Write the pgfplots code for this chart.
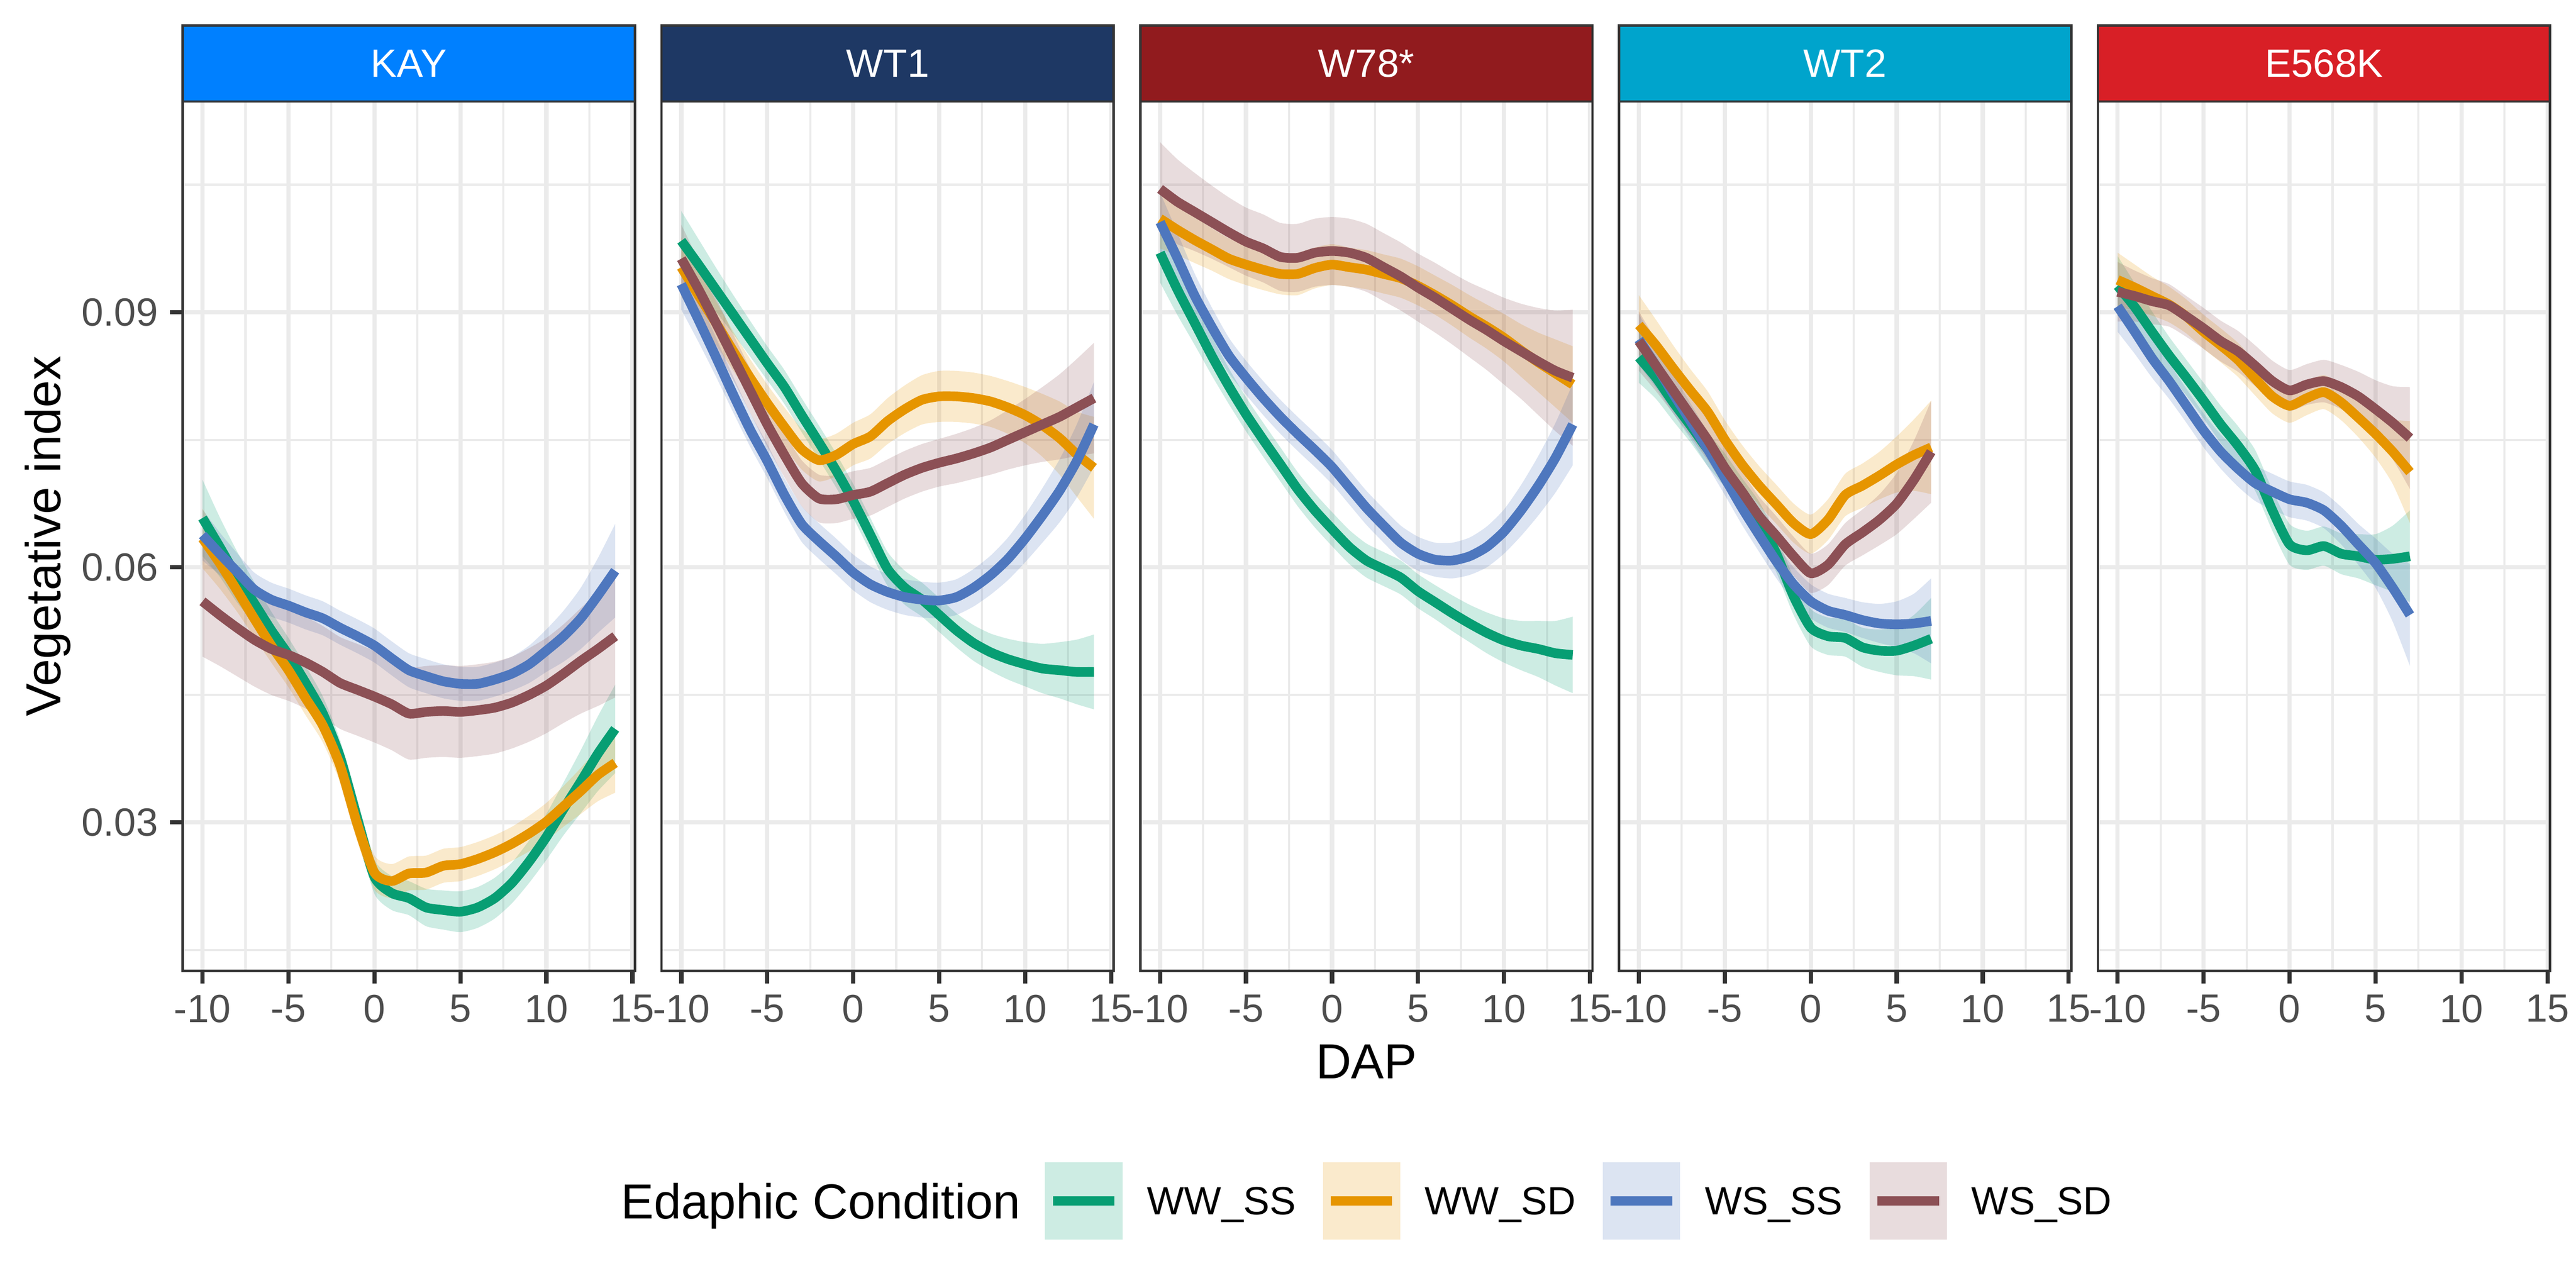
\documentclass[border=0pt]{standalone}
\usepackage{fontspec}
\setmainfont{Liberation Sans}
\usepackage{pgfplots}
\usepackage{pgfplotstable}
\pgfplotsset{compat=1.18}
\usepgfplotslibrary{fillbetween}

\definecolor{cWWSS}{HTML}{079E73}
\definecolor{cWWSD}{HTML}{E69500}
\definecolor{cWSSS}{HTML}{4E77BE}
\definecolor{cWSSD}{HTML}{8C5055}
\definecolor{ggdark}{HTML}{333333}
\definecolor{gridc}{HTML}{EBEBEB}
\definecolor{ticklab}{HTML}{4D4D4D}
\definecolor{sKAY}{HTML}{0080FF}
\definecolor{sWTone}{HTML}{1E3864}
\definecolor{sWSE}{HTML}{911B1E}
\definecolor{sWTtwo}{HTML}{00A4CC}
\definecolor{sEK}{HTML}{D81F26}

\pgfplotstableread{
x a ae b be c ce d de
-10 0.0658 0.0045 0.0634 0.0035 0.0638 0.0030 0.0560 0.0065
-9 0.0624 0.0035 0.0605 0.0030 0.0616 0.0025 0.0544 0.0060
-8 0.0589 0.0030 0.0573 0.0025 0.0595 0.0022 0.0529 0.0057
-7 0.0558 0.0025 0.0540 0.0022 0.0574 0.0020 0.0515 0.0055
-6 0.0526 0.0022 0.0508 0.0020 0.0562 0.0020 0.0504 0.0054
-5 0.0497 0.0020 0.0479 0.0020 0.0555 0.0020 0.0497 0.0054
-4 0.0464 0.0020 0.0446 0.0020 0.0547 0.0020 0.0488 0.0054
-3 0.0428 0.0020 0.0414 0.0020 0.0540 0.0020 0.0477 0.0054
-2 0.0377 0.0020 0.0367 0.0020 0.0529 0.0020 0.0464 0.0054
-1 0.0305 0.0020 0.0298 0.0020 0.0519 0.0020 0.0456 0.0054
0 0.0236 0.0020 0.0241 0.0020 0.0508 0.0020 0.0448 0.0054
1 0.0217 0.0020 0.0231 0.0020 0.0493 0.0020 0.0439 0.0054
2 0.0211 0.0020 0.0240 0.0020 0.0479 0.0020 0.0428 0.0054
3 0.0200 0.0022 0.0241 0.0020 0.0472 0.0020 0.0430 0.0054
4 0.0197 0.0023 0.0249 0.0020 0.0466 0.0020 0.0431 0.0054
5 0.0195 0.0024 0.0251 0.0020 0.0463 0.0020 0.0430 0.0054
6 0.0200 0.0024 0.0257 0.0020 0.0463 0.0020 0.0432 0.0054
7 0.0211 0.0024 0.0265 0.0020 0.0468 0.0020 0.0435 0.0054
8 0.0229 0.0024 0.0275 0.0020 0.0475 0.0020 0.0441 0.0054
9 0.0254 0.0025 0.0287 0.0021 0.0486 0.0022 0.0450 0.0055
10 0.0283 0.0027 0.0301 0.0022 0.0502 0.0025 0.0461 0.0056
11 0.0316 0.0031 0.0319 0.0024 0.0519 0.0030 0.0475 0.0058
12 0.0348 0.0037 0.0337 0.0027 0.0540 0.0036 0.0490 0.0062
13 0.0381 0.0044 0.0356 0.0031 0.0567 0.0044 0.0504 0.0067
14 0.0410 0.0052 0.0370 0.0035 0.0596 0.0055 0.0519 0.0072
}\tKAY

\pgfplotstableread{
x a ae b be c ce d de
-10 0.0984 0.0035 0.0953 0.0035 0.0933 0.0030 0.0963 0.0040
-9 0.0956 0.0030 0.0920 0.0030 0.0891 0.0026 0.0927 0.0034
-8 0.0927 0.0026 0.0888 0.0026 0.0848 0.0023 0.0888 0.0030
-7 0.0898 0.0023 0.0855 0.0023 0.0804 0.0021 0.0848 0.0027
-6 0.0869 0.0021 0.0823 0.0022 0.0762 0.0020 0.0808 0.0026
-5 0.0840 0.0020 0.0793 0.0022 0.0725 0.0020 0.0768 0.0026
-4 0.0812 0.0020 0.0765 0.0023 0.0685 0.0020 0.0732 0.0026
-3 0.0779 0.0020 0.0739 0.0024 0.0651 0.0021 0.0699 0.0027
-2 0.0747 0.0020 0.0726 0.0025 0.0631 0.0021 0.0681 0.0028
-1 0.0714 0.0020 0.0732 0.0025 0.0613 0.0021 0.0680 0.0028
0 0.0678 0.0020 0.0745 0.0025 0.0594 0.0021 0.0685 0.0028
1 0.0638 0.0020 0.0754 0.0026 0.0580 0.0021 0.0689 0.0028
2 0.0598 0.0020 0.0772 0.0027 0.0571 0.0021 0.0699 0.0028
3 0.0576 0.0020 0.0786 0.0028 0.0565 0.0021 0.0709 0.0028
4 0.0562 0.0020 0.0797 0.0029 0.0562 0.0021 0.0717 0.0028
5 0.0544 0.0020 0.0801 0.0030 0.0561 0.0021 0.0723 0.0028
6 0.0526 0.0020 0.0801 0.0030 0.0565 0.0021 0.0728 0.0029
7 0.0511 0.0021 0.0799 0.0030 0.0576 0.0022 0.0734 0.0030
8 0.0500 0.0022 0.0795 0.0030 0.0591 0.0023 0.0741 0.0032
9 0.0492 0.0024 0.0788 0.0031 0.0610 0.0025 0.0750 0.0035
10 0.0486 0.0026 0.0779 0.0033 0.0634 0.0028 0.0759 0.0039
11 0.0481 0.0029 0.0767 0.0037 0.0661 0.0032 0.0768 0.0044
12 0.0479 0.0033 0.0752 0.0043 0.0690 0.0037 0.0777 0.0050
13 0.0477 0.0038 0.0733 0.0050 0.0725 0.0043 0.0788 0.0057
14 0.0477 0.0044 0.0717 0.0060 0.0768 0.0050 0.0799 0.0065
}\tWTone

\pgfplotstableread{
x a ae b be c ce d de
-10 0.0970 0.0035 0.1010 0.0035 0.1006 0.0035 0.1045 0.0055
-9 0.0927 0.0030 0.0997 0.0030 0.0964 0.0030 0.1030 0.0050
-8 0.0888 0.0026 0.0985 0.0027 0.0920 0.0026 0.1018 0.0046
-7 0.0849 0.0023 0.0974 0.0025 0.0883 0.0023 0.1006 0.0043
-6 0.0813 0.0021 0.0963 0.0024 0.0849 0.0021 0.0994 0.0041
-5 0.0780 0.0020 0.0956 0.0024 0.0823 0.0020 0.0983 0.0040
-4 0.0750 0.0020 0.0950 0.0024 0.0799 0.0020 0.0975 0.0040
-3 0.0721 0.0020 0.0945 0.0024 0.0777 0.0020 0.0965 0.0040
-2 0.0692 0.0020 0.0945 0.0025 0.0757 0.0020 0.0964 0.0040
-1 0.0667 0.0020 0.0952 0.0024 0.0738 0.0020 0.0970 0.0040
0 0.0645 0.0020 0.0956 0.0024 0.0718 0.0020 0.0972 0.0040
1 0.0624 0.0020 0.0953 0.0023 0.0694 0.0020 0.0970 0.0040
2 0.0608 0.0020 0.0950 0.0023 0.0670 0.0020 0.0964 0.0040
3 0.0598 0.0020 0.0945 0.0023 0.0649 0.0020 0.0953 0.0040
4 0.0588 0.0020 0.0940 0.0023 0.0629 0.0020 0.0942 0.0040
5 0.0572 0.0020 0.0931 0.0023 0.0616 0.0020 0.0929 0.0040
6 0.0559 0.0020 0.0920 0.0023 0.0609 0.0020 0.0917 0.0041
7 0.0546 0.0021 0.0908 0.0024 0.0608 0.0021 0.0904 0.0042
8 0.0534 0.0022 0.0895 0.0025 0.0613 0.0022 0.0891 0.0044
9 0.0523 0.0024 0.0883 0.0026 0.0624 0.0024 0.0879 0.0047
10 0.0514 0.0026 0.0870 0.0028 0.0642 0.0026 0.0866 0.0051
11 0.0508 0.0029 0.0855 0.0031 0.0667 0.0030 0.0854 0.0056
12 0.0504 0.0033 0.0841 0.0035 0.0696 0.0035 0.0842 0.0063
13 0.0499 0.0038 0.0828 0.0040 0.0729 0.0041 0.0831 0.0071
14 0.0497 0.0045 0.0815 0.0045 0.0768 0.0048 0.0823 0.0080
}\tWSE

\pgfplotstableread{
x a ae b be c ce d de
-10 0.0847 0.0030 0.0885 0.0035 0.0868 0.0030 0.0866 0.0035
-9 0.0823 0.0025 0.0861 0.0030 0.0837 0.0026 0.0837 0.0030
-8 0.0794 0.0022 0.0834 0.0027 0.0804 0.0023 0.0808 0.0027
-7 0.0767 0.0020 0.0808 0.0025 0.0772 0.0021 0.0779 0.0025
-6 0.0739 0.0020 0.0783 0.0024 0.0739 0.0020 0.0750 0.0024
-5 0.0714 0.0020 0.0750 0.0023 0.0705 0.0020 0.0717 0.0023
-4 0.0685 0.0020 0.0721 0.0023 0.0670 0.0020 0.0689 0.0023
-3 0.0656 0.0021 0.0696 0.0023 0.0638 0.0020 0.0660 0.0023
-2 0.0616 0.0022 0.0674 0.0023 0.0607 0.0020 0.0637 0.0023
-1 0.0566 0.0022 0.0652 0.0023 0.0580 0.0020 0.0613 0.0023
0 0.0529 0.0022 0.0639 0.0023 0.0560 0.0020 0.0593 0.0023
1 0.0519 0.0022 0.0656 0.0024 0.0549 0.0020 0.0603 0.0024
2 0.0517 0.0022 0.0685 0.0025 0.0544 0.0020 0.0627 0.0025
3 0.0506 0.0023 0.0696 0.0026 0.0538 0.0021 0.0641 0.0027
4 0.0502 0.0025 0.0708 0.0028 0.0534 0.0023 0.0656 0.0030
5 0.0502 0.0029 0.0721 0.0033 0.0533 0.0027 0.0675 0.0036
6 0.0508 0.0036 0.0732 0.0042 0.0534 0.0035 0.0703 0.0046
7 0.0516 0.0048 0.0741 0.0055 0.0537 0.0050 0.0736 0.0060
}\tWTtwo

\pgfplotstableread{
x a ae b be c ce d de
-10 0.0931 0.0035 0.0938 0.0032 0.0907 0.0030 0.0924 0.0035
-9 0.0906 0.0028 0.0929 0.0027 0.0877 0.0026 0.0919 0.0030
-8 0.0877 0.0024 0.0919 0.0023 0.0846 0.0023 0.0913 0.0027
-7 0.0849 0.0022 0.0909 0.0021 0.0819 0.0021 0.0908 0.0025
-6 0.0823 0.0021 0.0895 0.0020 0.0790 0.0020 0.0895 0.0024
-5 0.0796 0.0021 0.0877 0.0020 0.0761 0.0020 0.0881 0.0024
-4 0.0768 0.0022 0.0861 0.0020 0.0736 0.0020 0.0866 0.0024
-3 0.0743 0.0023 0.0844 0.0020 0.0716 0.0021 0.0854 0.0024
-2 0.0714 0.0024 0.0822 0.0020 0.0699 0.0021 0.0837 0.0024
-1 0.0667 0.0024 0.0801 0.0020 0.0689 0.0021 0.0819 0.0024
0 0.0627 0.0024 0.0790 0.0020 0.0680 0.0021 0.0808 0.0024
1 0.0620 0.0023 0.0799 0.0020 0.0676 0.0021 0.0815 0.0024
2 0.0625 0.0023 0.0806 0.0020 0.0667 0.0021 0.0819 0.0025
3 0.0616 0.0024 0.0794 0.0021 0.0649 0.0022 0.0812 0.0026
4 0.0613 0.0026 0.0776 0.0023 0.0627 0.0024 0.0801 0.0029
5 0.0609 0.0030 0.0757 0.0028 0.0605 0.0029 0.0786 0.0034
6 0.0610 0.0039 0.0736 0.0038 0.0576 0.0040 0.0770 0.0043
7 0.0613 0.0054 0.0712 0.0060 0.0544 0.0060 0.0752 0.0060
}\tEK

\newcommand{\ribline}[5]{%
\addplot[draw=none, smooth, tension=0.4, forget plot, name path=#5u] table[x=x, y expr=\thisrow{#2}+\thisrow{#3}] {#1};
\addplot[draw=none, smooth, tension=0.4, forget plot, name path=#5l] table[x=x, y expr=\thisrow{#2}-\thisrow{#3}] {#1};
\addplot[fill=#4, fill opacity=0.2, draw=none, forget plot] fill between[of=#5u and #5l];
\addplot[color=#4, line width=4.3pt, line join=round, smooth, tension=0.4, forget plot] table[x=x, y=#2] {#1};
}
\newcommand{\fourseries}[2]{%
\ribline{#1}{a}{ae}{cWWSS}{#2a}
\ribline{#1}{b}{be}{cWWSD}{#2b}
\ribline{#1}{c}{ce}{cWSSS}{#2c}
\ribline{#1}{d}{de}{cWSSD}{#2d}
}
\newcommand{\keyimg}[1]{\addlegendimage{legend image code/.code={\fill[fill=#1, fill opacity=0.2, draw=none] (0pt,-17.35pt) rectangle (34.7pt,17.35pt); \draw[draw=#1, line width=4.3pt] (3.6pt,0pt) -- (31.1pt,0pt);}}}

\pgfplotsset{
 panel/.style={
  scale only axis, width=202.23pt, height=388.8pt, anchor=south west,
  xmin=-11.15, xmax=15.15, ymin=0.01255, ymax=0.11479,
  xtick={-10,-5,0,5,10,15}, xticklabels={-10,-5,0,5,10,15},
  minor xtick={-7.5,-2.5,2.5,7.5,12.5},
  ytick={0.03,0.06,0.09}, minor ytick={0.015,0.045,0.075,0.105},
  grid=both,
  major grid style={line width=1.9pt, draw=gridc},
  minor grid style={line width=0.95pt, draw=gridc},
  tick align=outside, tick pos=left,
  major tick length=5.7pt, minor tick length=0pt,
  major tick style={line width=1.9pt, draw=ggdark},
  axis line style={line width=1.05pt, draw=ggdark},
  tick label style={font=\fontsize{17.6}{21}\selectfont, text=ticklab},
  xticklabel style={inner ysep=4.9pt, inner xsep=0pt},
  yticklabel style={inner xsep=5.1pt, inner ysep=0pt},
  every axis title/.style={at={(0.5,1)}, anchor=south, draw=ggdark, line width=1.05pt,
    minimum width=202.23pt, minimum height=34pt, inner sep=0pt, outer sep=0pt,
    text=white, font=\fontsize{17.6}{21}\selectfont},
 },
 noy/.style={yticklabels={,,}, ytick style={draw=none}},
}

\begin{document}
\begin{tikzpicture}

\begin{axis}[panel, at={(81.72pt,141.84pt)}, title=KAY, title style={fill=sKAY},
  yticklabels={0.03,0.06,0.09},
  ylabel={Vegetative index},
  ylabel style={at={(axis description cs:-0.2705,0.5)}, anchor=base, font=\fontsize{22}{26}\selectfont, text=black}]
\fourseries{\tKAY}{p1}
\end{axis}

\begin{axis}[panel, noy, at={(295.83pt,141.84pt)}, title=WT1, title style={fill=sWTone}]
\fourseries{\tWTone}{p2}
\end{axis}

\begin{axis}[panel, noy, at={(509.94pt,141.84pt)}, title={W78*}, title style={fill=sWSE},
  xlabel={DAP},
  xlabel style={at={(axis description cs:0.5,-0.12382)}, anchor=base, font=\fontsize{22}{26}\selectfont, text=black},
  legend columns=-1, legend cell align=left,
  legend style={at={(0.5,-0.26476)}, anchor=center, draw=none, fill=none, inner sep=0pt, outer sep=0pt,
    column sep=0pt, row sep=0pt, font=\fontsize{17.6}{21}\selectfont, nodes={inner sep=0pt, text depth=0pt, text=black}}]
\fourseries{\tWSE}{p3}
\addlegendimage{empty legend}
\addlegendentry{\fontsize{22}{26}\selectfont Edaphic Condition\kern11pt}
\keyimg{cWWSS}
\addlegendentry{\kern11pt WW\_SS\kern12pt}
\keyimg{cWWSD}
\addlegendentry{\kern11pt WW\_SD\kern12pt}
\keyimg{cWSSS}
\addlegendentry{\kern11pt WS\_SS\kern12pt}
\keyimg{cWSSD}
\addlegendentry{\kern11pt WS\_SD}
\end{axis}

\begin{axis}[panel, noy, at={(724.05pt,141.84pt)}, title=WT2, title style={fill=sWTtwo}]
\fourseries{\tWTtwo}{p4}
\end{axis}

\begin{axis}[panel, noy, at={(938.16pt,141.84pt)}, title=E568K, title style={fill=sEK}]
\fourseries{\tEK}{p5}
\end{axis}

\pgfresetboundingbox
\path[use as bounding box] (0,0) rectangle (1152pt,576pt);
\end{tikzpicture}
\end{document}
